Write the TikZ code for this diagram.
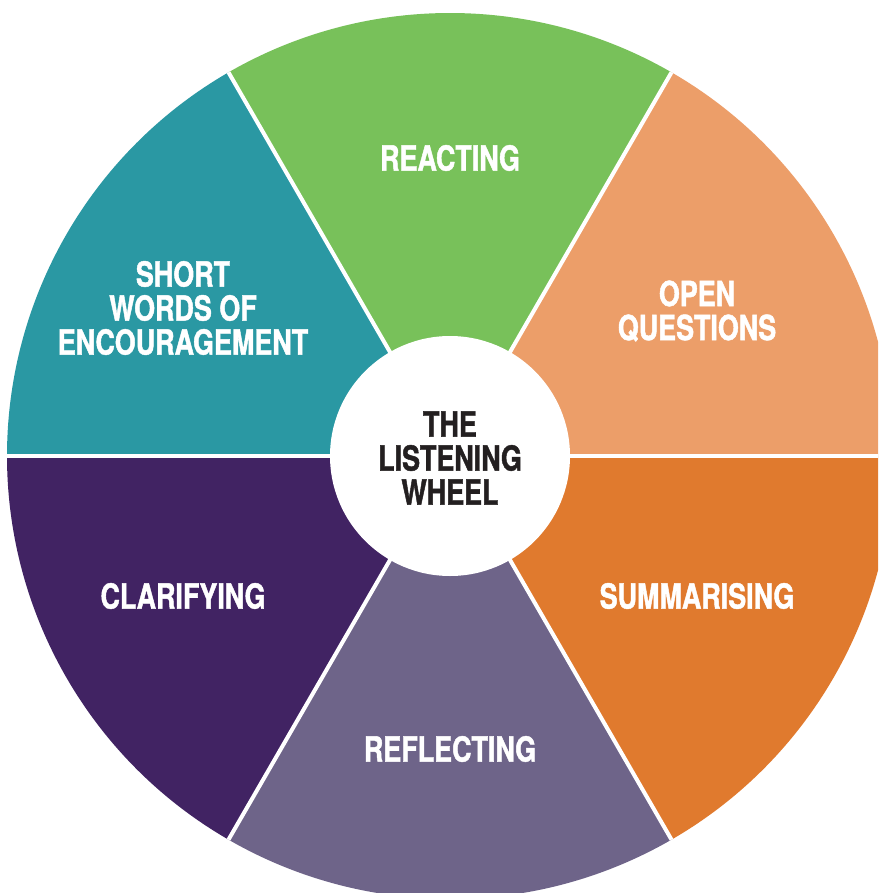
\documentclass[tikz,border=0pt]{standalone}
\usepackage{fontspec}
\setmainfont{TeX Gyre Heros}[FakeStretch=0.78, BoldFeatures={FakeBold=1.3}]
\definecolor{cgreen}{HTML}{78C15A}
\definecolor{clorange}{HTML}{EC9E69}
\definecolor{corange}{HTML}{E07A2E}
\definecolor{cteal}{HTML}{2A98A3}
\definecolor{cpurple}{HTML}{412363}
\definecolor{cgrey}{HTML}{6E6489}
\definecolor{cdark}{HTML}{231F20}
\tikzset{
  seg/.style={draw=white, line width=4pt, line join=round},
  lbl/.style={text=white, font=\fontsize{34.5}{34}\selectfont\bfseries, align=center},
  ctr/.style={text=cdark, font=\fontsize{34.5}{34}\selectfont\bfseries, align=center}
}
\begin{document}
\begin{tikzpicture}[x=1pt,y=-1pt]
\useasboundingbox (0,0) rectangle (878,893);
\begin{scope}
\clip (0,0) rectangle (878,893);
\coordinate (c) at (450,456);
\foreach \a/\col in {0/clorange,60/cgreen,120/cteal,180/cpurple,240/cgrey,300/corange}{
  \fill[\col] (c) -- ++(-\a:443) arc[start angle=-\a, end angle=-\a-60, radius=443] -- cycle;
}
\foreach \a in {0,60,120,180,240,300}{
  \draw[white, line width=4pt] (c) -- ++(-\a:443);
}
\fill[white] (c) circle[radius=120];
\end{scope}
\node[ctr] (center) at (450,458) {THE\\LISTENING\\WHEEL};
\node[lbl] (reacting) at (450,158) {REACTING};
\node[lbl] (open) at (697,311) {OPEN\\QUESTIONS};
\node[lbl] (summ) at (697,596) {SUMMARISING};
\node[lbl] (refl) at (450,749) {REFLECTING};
\node[lbl] (clar) at (183,596) {CLARIFYING};
\node[lbl] (short) at (183,308) {SHORT\\WORDS OF\\ENCOURAGEMENT};
\end{tikzpicture}
\end{document}
